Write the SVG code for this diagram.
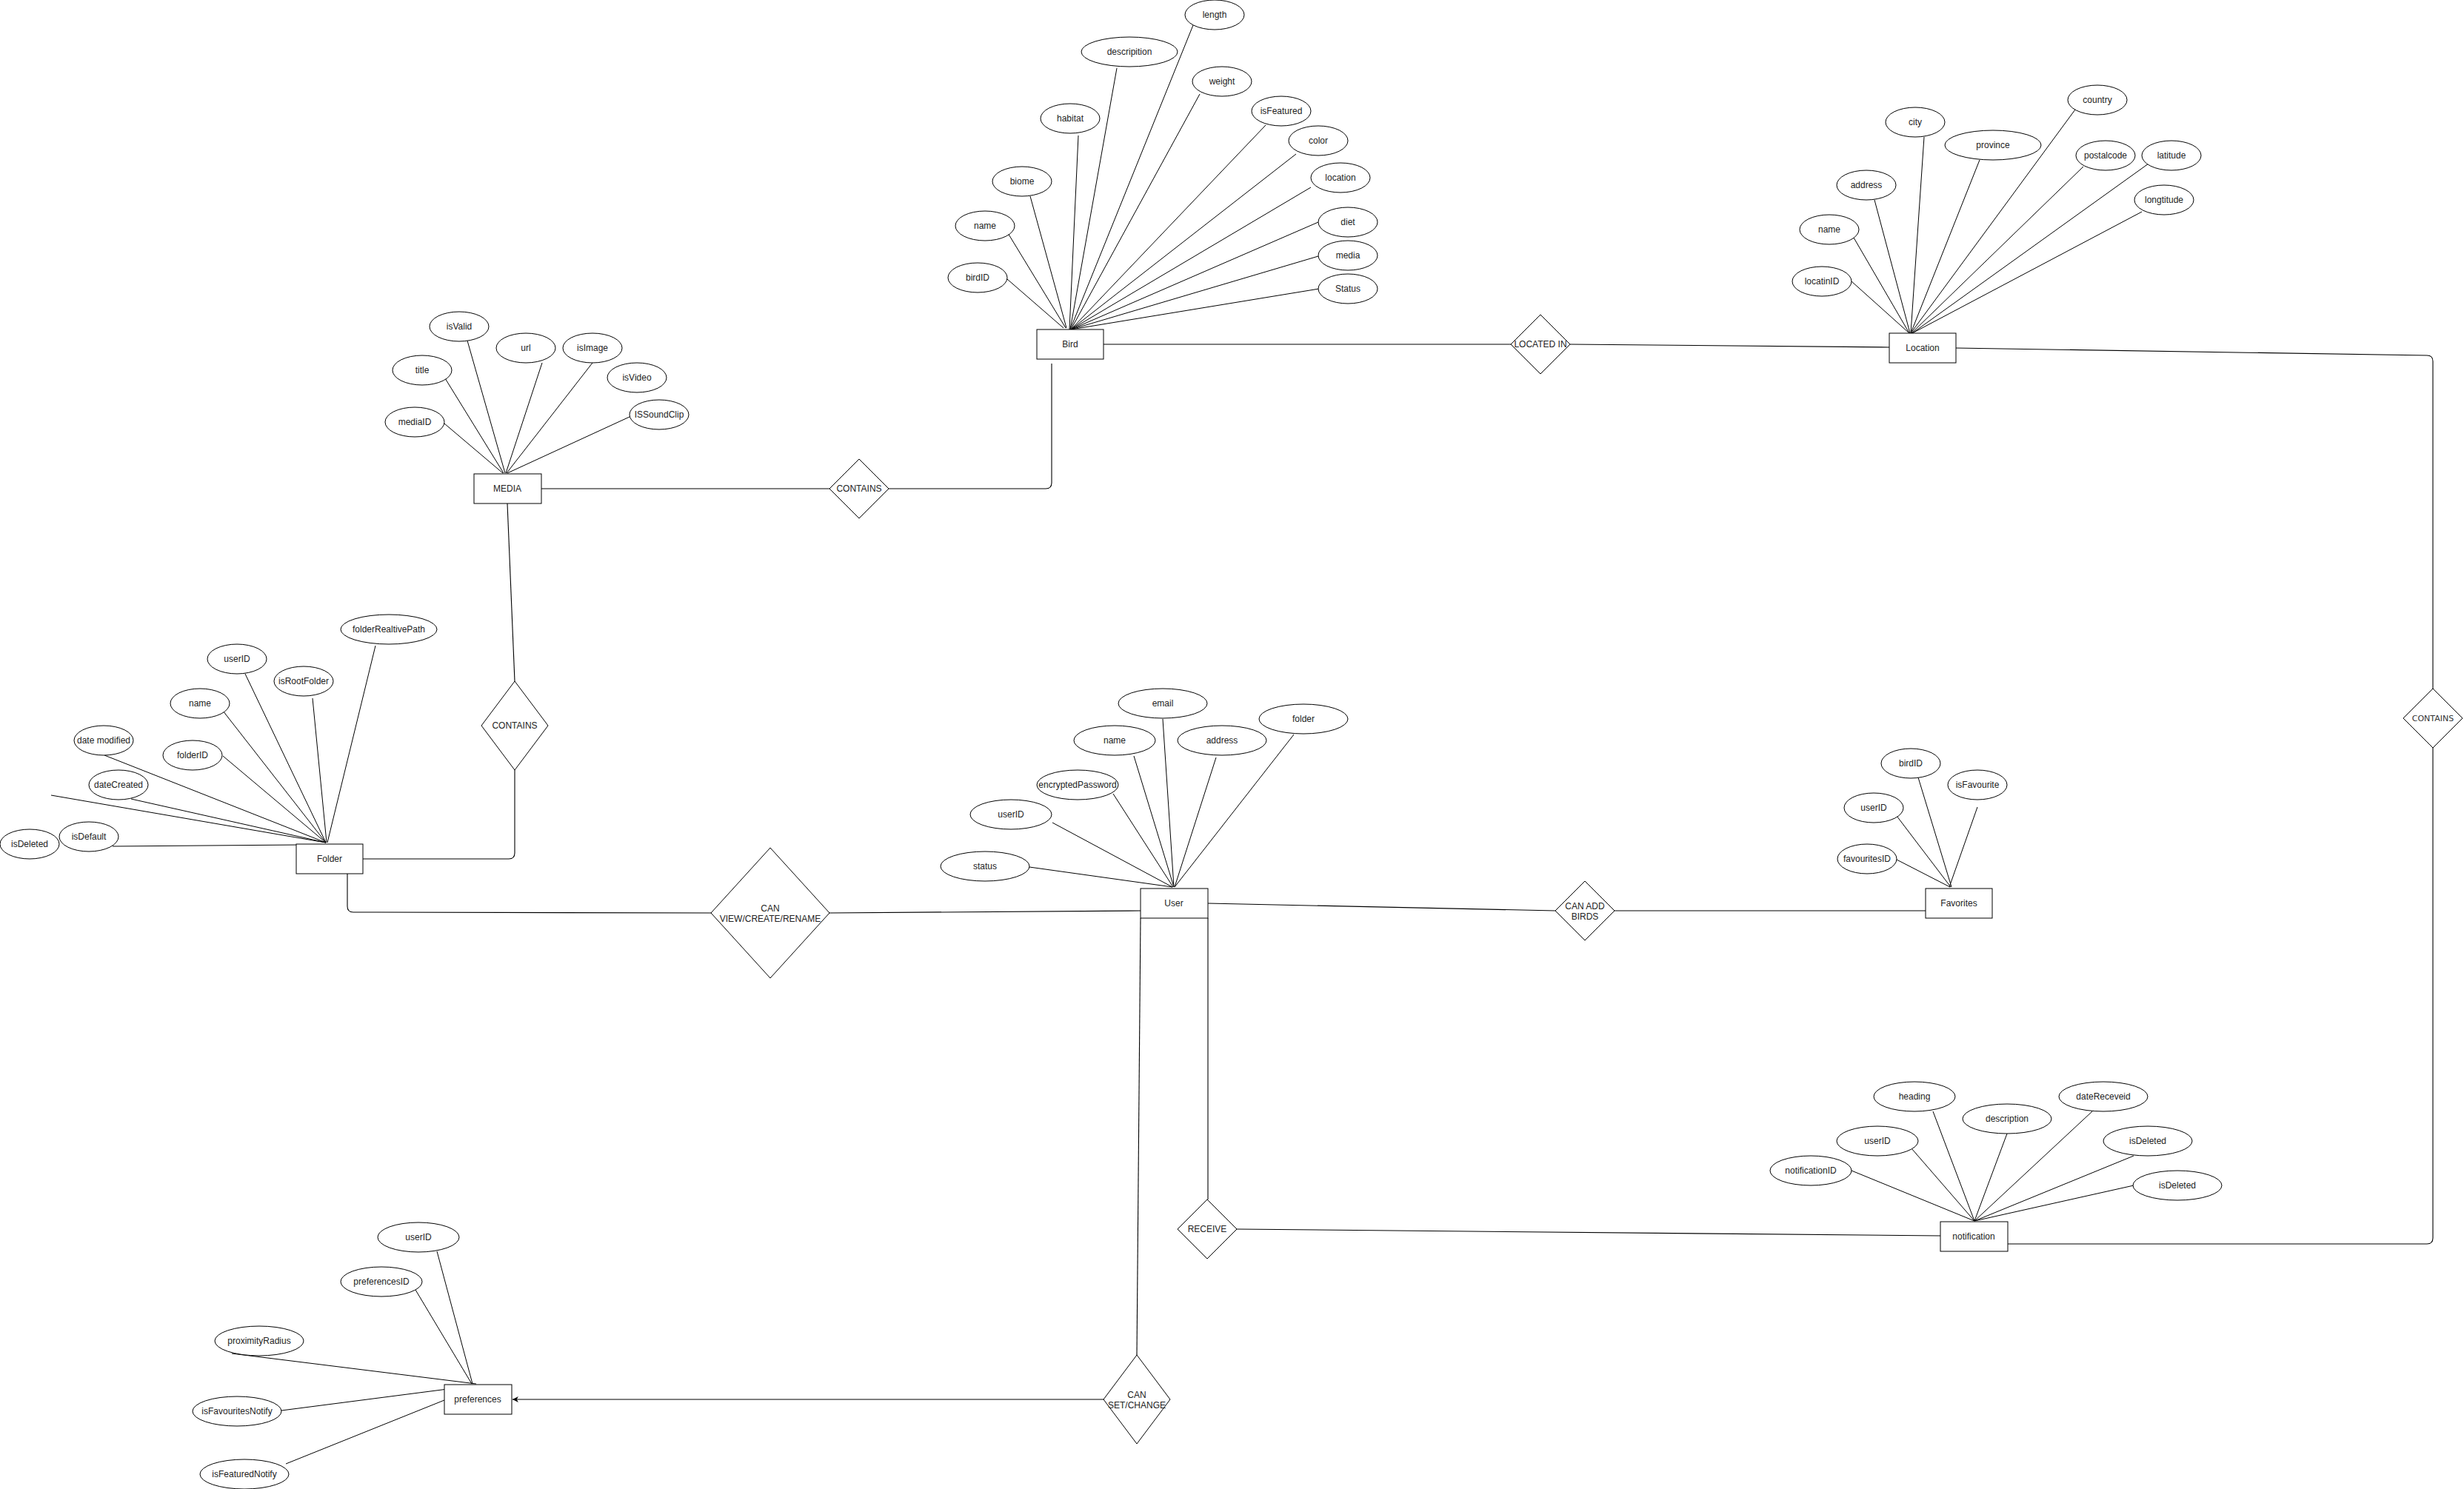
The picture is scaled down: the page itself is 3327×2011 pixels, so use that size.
<svg xmlns="http://www.w3.org/2000/svg" width="3327" height="2011" viewBox="0 0 3327 2011">
<style>
.bg{fill:#ffffff}
.attr ellipse{fill:#ffffff;stroke:#000;stroke-width:1}
.ent rect{fill:#ffffff;stroke:#000;stroke-width:1}
.rel polygon{fill:#ffffff;stroke:#000;stroke-width:1}
text{font-family:"Liberation Sans",Arial,sans-serif;font-size:12px;fill:#222;text-anchor:middle;dominant-baseline:central}
.conn line,.conn path{stroke:#000;stroke-width:1;fill:none}
.conn .rl{stroke-width:1.1}
.wide{font-family:"DejaVu Sans",Verdana,sans-serif;font-size:11px;fill:#333}
</style>
<defs>
<marker id="arr" viewBox="0 0 10 10" refX="10" refY="5" markerWidth="8" markerHeight="8" orient="auto" markerUnits="userSpaceOnUse">
<path d="M0,0 L10,5 L0,10 L3,5 z" fill="#000"/>
</marker>
</defs>
<rect class="bg" x="0" y="0" width="3327" height="2011"/>

<g id="connectors" class="conn">
<!-- Bird attributes -->
<line x1="1360" y1="377" x2="1436" y2="443"/>
<line x1="1361" y1="315" x2="1439" y2="443"/>
<line x1="1391" y1="265" x2="1440" y2="443"/>
<line x1="1456" y1="183" x2="1444" y2="445"/>
<line x1="1508" y1="92" x2="1445" y2="445"/>
<line x1="1611" y1="34" x2="1445" y2="445"/>
<line x1="1620" y1="127" x2="1446" y2="445"/>
<line x1="1709" y1="169" x2="1446" y2="445"/>
<line x1="1750" y1="208" x2="1446" y2="445"/>
<line x1="1770" y1="253" x2="1446" y2="445"/>
<line x1="1780" y1="300" x2="1446" y2="445"/>
<line x1="1780" y1="346" x2="1446" y2="445"/>
<line x1="1781" y1="390" x2="1446" y2="445"/>
<!-- Location attributes -->
<line x1="2500" y1="380" x2="2578" y2="450"/>
<line x1="2503" y1="321" x2="2578" y2="450"/>
<line x1="2531" y1="270" x2="2579" y2="450"/>
<line x1="2598" y1="185" x2="2580" y2="450"/>
<line x1="2673" y1="216" x2="2580" y2="450"/>
<line x1="2802" y1="148" x2="2580" y2="450"/>
<line x1="2813" y1="225" x2="2581" y2="450"/>
<line x1="2901" y1="221" x2="2582" y2="450"/>
<line x1="2892" y1="286" x2="2582" y2="450"/>
<!-- MEDIA attributes -->
<line x1="600" y1="572" x2="679" y2="639"/>
<line x1="601" y1="511" x2="680" y2="639"/>
<line x1="631" y1="460" x2="682" y2="639"/>
<line x1="732" y1="490" x2="683" y2="639"/>
<line x1="800" y1="490" x2="684" y2="639"/>
<line x1="850" y1="563" x2="685" y2="639"/>
<!-- Folder attributes -->
<line x1="507" y1="872" x2="442" y2="1138"/>
<line x1="422" y1="943" x2="441" y2="1138"/>
<line x1="331" y1="910" x2="440" y2="1138"/>
<line x1="301" y1="960" x2="440" y2="1138"/>
<line x1="301" y1="1021" x2="440" y2="1138"/>
<line x1="141" y1="1020" x2="440" y2="1138"/>
<line x1="177" y1="1079" x2="440" y2="1138"/>
<line x1="69" y1="1074" x2="440" y2="1138"/>
<line x1="152" y1="1143" x2="404" y2="1141"/>
<!-- User attributes -->
<line x1="1390" y1="1171" x2="1583" y2="1198"/>
<line x1="1421" y1="1111" x2="1583" y2="1198"/>
<line x1="1503" y1="1072" x2="1584" y2="1198"/>
<line x1="1531" y1="1021" x2="1585" y2="1198"/>
<line x1="1570" y1="971" x2="1585" y2="1198"/>
<line x1="1642" y1="1023" x2="1586" y2="1198"/>
<line x1="1747" y1="992" x2="1586" y2="1198"/>
<!-- Favorites attributes -->
<line x1="2561" y1="1161" x2="2633" y2="1198"/>
<line x1="2561" y1="1102" x2="2634" y2="1198"/>
<line x1="2590" y1="1050" x2="2635" y2="1198"/>
<line x1="2670" y1="1090" x2="2632" y2="1198"/>
<!-- notification attributes -->
<line x1="2500" y1="1581" x2="2666" y2="1649"/>
<line x1="2581" y1="1551" x2="2666" y2="1649"/>
<line x1="2610" y1="1501" x2="2666" y2="1649"/>
<line x1="2710" y1="1531" x2="2666" y2="1649"/>
<line x1="2825" y1="1501" x2="2666" y2="1649"/>
<line x1="2881" y1="1561" x2="2666" y2="1649"/>
<line x1="2881" y1="1601" x2="2666" y2="1649"/>
<!-- preferences attributes -->
<line x1="590" y1="1690" x2="638" y2="1869"/>
<line x1="561" y1="1742" x2="637" y2="1869"/>
<line x1="313" y1="1828" x2="643" y2="1869"/>
<line x1="380" y1="1905" x2="643" y2="1871"/>
<line x1="386" y1="1977" x2="600" y2="1891"/>
<!-- relationship connectors -->
<line class="rl" x1="1490" y1="465" x2="2040" y2="465"/>
<line class="rl" x1="2120" y1="465" x2="2551" y2="469"/>
<path class="rl" d="M2641,470 L3277,480 Q3285,480 3285,488 L3285,930"/>
<path class="rl" d="M3285,1010 L3285,1672 Q3285,1680 3277,1680 L2711,1680"/>
<line class="rl" x1="731" y1="660" x2="1120" y2="660"/>
<path class="rl" d="M1200,660 L1412,660 Q1420,660 1420,652 L1420,491"/>
<line class="rl" x1="685" y1="680" x2="695" y2="920"/>
<path class="rl" d="M695,1040 L695,1152 Q695,1160 687,1160 L490,1160"/>
<path class="rl" d="M469,1180 L469,1224 Q469,1232 477,1232 L960,1233"/>
<line class="rl" x1="1120" y1="1233" x2="1540" y2="1230"/>
<line class="rl" x1="1631" y1="1220" x2="2100" y2="1230"/>
<line class="rl" x1="2180" y1="1230" x2="2600" y2="1230"/>
<line class="rl" x1="1631" y1="1240" x2="1631" y2="1620"/>
<line class="rl" x1="1670" y1="1660" x2="2620" y2="1669"/>
<line class="rl" x1="1540" y1="1240" x2="1535" y2="1830"/>
<line class="rl" x1="1490" y1="1890" x2="692" y2="1890" marker-end="url(#arr)"/>
</g>

<!-- Entities -->
<g id="bird" class="ent"><rect x="1400" y="445" width="90" height="40"/><text x="1445" y="465">Bird</text></g>
<g id="location" class="ent"><rect x="2551" y="450" width="90" height="40"/><text x="2596" y="470">Location</text></g>
<g id="media" class="ent"><rect x="640" y="640" width="91" height="40"/><text x="685" y="660">MEDIA</text></g>
<g id="folder" class="ent"><rect x="400" y="1140" width="90" height="40"/><text x="445" y="1160">Folder</text></g>
<g id="user" class="ent"><rect x="1540" y="1200" width="91" height="40"/><text x="1585" y="1220">User</text></g>
<g id="favorites" class="ent"><rect x="2600" y="1200" width="90" height="40"/><text x="2645" y="1220">Favorites</text></g>
<g id="notification" class="ent"><rect x="2620" y="1650" width="91" height="40"/><text x="2665" y="1670">notification</text></g>
<g id="preferences" class="ent"><rect x="600" y="1870" width="91" height="40"/><text x="645" y="1890">preferences</text></g>

<!-- Relationships -->
<g id="rel-located-in" class="rel"><polygon points="2080,425 2120,465 2080,505 2040,465"/><text x="2080" y="465">LOCATED IN</text></g>
<g id="rel-contains-media-bird" class="rel"><polygon points="1160,620 1200,660 1160,700 1120,660"/><text x="1160" y="660">CONTAINS</text></g>
<g id="rel-contains-folder-media" class="rel"><polygon points="695,920 740,980 695,1040 650,980"/><text x="695" y="980">CONTAINS</text></g>
<g id="rel-can-view" class="rel"><polygon points="1040,1145 1120,1233 1040,1321 960,1233"/><text x="1040" y="1227">CAN</text><text x="1040" y="1241">VIEW/CREATE/RENAME</text></g>
<g id="rel-can-add" class="rel"><polygon points="2140,1190 2180,1230 2140,1270 2100,1230"/><text x="2140" y="1224">CAN ADD</text><text x="2140" y="1238">BIRDS</text></g>
<g id="rel-receive" class="rel"><polygon points="1630,1620 1670,1660 1630,1700 1590,1660"/><text x="1630" y="1660">RECEIVE</text></g>
<g id="rel-can-set" class="rel"><polygon points="1535,1830 1580,1890 1535,1950 1490,1890"/><text x="1535" y="1884">CAN</text><text x="1535" y="1898">SET/CHANGE</text></g>
<g id="rel-contains-right" class="rel"><polygon points="3285,930 3325,970 3285,1010 3245,970"/><text class="wide" x="3285" y="970">CONTAINS</text></g>

<!-- Bird attributes -->
<g id="bird-length" class="attr"><ellipse cx="1640" cy="20" rx="40" ry="20"/><text x="1640" y="20">length</text></g>
<g id="bird-descripition" class="attr"><ellipse cx="1525" cy="70" rx="65" ry="20"/><text x="1525" y="70">descripition</text></g>
<g id="bird-weight" class="attr"><ellipse cx="1650" cy="110" rx="40" ry="20"/><text x="1650" y="110">weight</text></g>
<g id="bird-habitat" class="attr"><ellipse cx="1445" cy="160" rx="40" ry="20"/><text x="1445" y="160">habitat</text></g>
<g id="bird-isFeatured" class="attr"><ellipse cx="1730" cy="150" rx="40" ry="20"/><text x="1730" y="150">isFeatured</text></g>
<g id="bird-color" class="attr"><ellipse cx="1780" cy="190" rx="40" ry="20"/><text x="1780" y="190">color</text></g>
<g id="bird-biome" class="attr"><ellipse cx="1380" cy="245" rx="40" ry="20"/><text x="1380" y="245">biome</text></g>
<g id="bird-location" class="attr"><ellipse cx="1810" cy="240" rx="40" ry="20"/><text x="1810" y="240">location</text></g>
<g id="bird-name" class="attr"><ellipse cx="1330" cy="305" rx="40" ry="20"/><text x="1330" y="305">name</text></g>
<g id="bird-diet" class="attr"><ellipse cx="1820" cy="300" rx="40" ry="20"/><text x="1820" y="300">diet</text></g>
<g id="bird-birdID" class="attr"><ellipse cx="1320" cy="375" rx="40" ry="20"/><text x="1320" y="375">birdID</text></g>
<g id="bird-media" class="attr"><ellipse cx="1820" cy="345" rx="40" ry="20"/><text x="1820" y="345">media</text></g>
<g id="bird-status" class="attr"><ellipse cx="1820" cy="390" rx="40" ry="20"/><text x="1820" y="390">Status</text></g>

<!-- Location attributes -->
<g id="loc-country" class="attr"><ellipse cx="2832" cy="135" rx="40" ry="20"/><text x="2832" y="135">country</text></g>
<g id="loc-city" class="attr"><ellipse cx="2586" cy="165" rx="40" ry="20"/><text x="2586" y="165">city</text></g>
<g id="loc-province" class="attr"><ellipse cx="2691" cy="196" rx="65" ry="20"/><text x="2691" y="196">province</text></g>
<g id="loc-postalcode" class="attr"><ellipse cx="2843" cy="210" rx="40" ry="20"/><text x="2843" y="210">postalcode</text></g>
<g id="loc-latitude" class="attr"><ellipse cx="2932" cy="210" rx="40" ry="20"/><text x="2932" y="210">latitude</text></g>
<g id="loc-address" class="attr"><ellipse cx="2520" cy="250" rx="40" ry="20"/><text x="2520" y="250">address</text></g>
<g id="loc-longtitude" class="attr"><ellipse cx="2922" cy="270" rx="40" ry="20"/><text x="2922" y="270">longtitude</text></g>
<g id="loc-name" class="attr"><ellipse cx="2470" cy="310" rx="40" ry="20"/><text x="2470" y="310">name</text></g>
<g id="loc-locatinID" class="attr"><ellipse cx="2460" cy="380" rx="40" ry="20"/><text x="2460" y="380">locatinID</text></g>

<!-- MEDIA attributes -->
<g id="media-isValid" class="attr"><ellipse cx="620" cy="441" rx="40" ry="20"/><text x="620" y="441">isValid</text></g>
<g id="media-url" class="attr"><ellipse cx="710" cy="470" rx="40" ry="20"/><text x="710" y="470">url</text></g>
<g id="media-isImage" class="attr"><ellipse cx="800" cy="470" rx="40" ry="20"/><text x="800" y="470">isImage</text></g>
<g id="media-title" class="attr"><ellipse cx="570" cy="500" rx="40" ry="20"/><text x="570" y="500">title</text></g>
<g id="media-isVideo" class="attr"><ellipse cx="860" cy="510" rx="40" ry="20"/><text x="860" y="510">isVideo</text></g>
<g id="media-mediaID" class="attr"><ellipse cx="560" cy="570" rx="40" ry="20"/><text x="560" y="570">mediaID</text></g>
<g id="media-ISSoundClip" class="attr"><ellipse cx="890" cy="560" rx="40" ry="20"/><text x="890" y="560">ISSoundClip</text></g>

<!-- Folder attributes -->
<g id="folder-path" class="attr"><ellipse cx="525" cy="850" rx="65" ry="20"/><text x="525" y="850">folderRealtivePath</text></g>
<g id="folder-userID" class="attr"><ellipse cx="320" cy="890" rx="40" ry="20"/><text x="320" y="890">userID</text></g>
<g id="folder-isRootFolder" class="attr"><ellipse cx="410" cy="920" rx="40" ry="20"/><text x="410" y="920">isRootFolder</text></g>
<g id="folder-name" class="attr"><ellipse cx="270" cy="950" rx="40" ry="20"/><text x="270" y="950">name</text></g>
<g id="folder-datemodified" class="attr"><ellipse cx="140" cy="1000" rx="40" ry="20"/><text x="140" y="1000">date modified</text></g>
<g id="folder-folderID" class="attr"><ellipse cx="260" cy="1020" rx="40" ry="20"/><text x="260" y="1020">folderID</text></g>
<g id="folder-dateCreated" class="attr"><ellipse cx="160" cy="1060" rx="40" ry="20"/><text x="160" y="1060">dateCreated</text></g>
<g id="folder-isDefault" class="attr"><ellipse cx="120" cy="1130" rx="40" ry="20"/><text x="120" y="1130">isDefault</text></g>
<g id="folder-isDeleted" class="attr"><ellipse cx="40" cy="1140" rx="40" ry="20"/><text x="40" y="1140">isDeleted</text></g>

<!-- User attributes -->
<g id="user-email" class="attr"><ellipse cx="1570" cy="950" rx="60" ry="20"/><text x="1570" y="950">email</text></g>
<g id="user-folder" class="attr"><ellipse cx="1760" cy="971" rx="60" ry="20"/><text x="1760" y="971">folder</text></g>
<g id="user-name" class="attr"><ellipse cx="1505" cy="1000" rx="55" ry="20"/><text x="1505" y="1000">name</text></g>
<g id="user-address" class="attr"><ellipse cx="1650" cy="1000" rx="60" ry="20"/><text x="1650" y="1000">address</text></g>
<g id="user-encryptedPassword" class="attr"><ellipse cx="1455" cy="1060" rx="55" ry="20"/><text x="1455" y="1060">encryptedPassword</text></g>
<g id="user-userID" class="attr"><ellipse cx="1365" cy="1100" rx="55" ry="20"/><text x="1365" y="1100">userID</text></g>
<g id="user-status" class="attr"><ellipse cx="1330" cy="1170" rx="60" ry="20"/><text x="1330" y="1170">status</text></g>

<!-- Favorites attributes -->
<g id="fav-birdID" class="attr"><ellipse cx="2580" cy="1031" rx="40" ry="20"/><text x="2580" y="1031">birdID</text></g>
<g id="fav-isFavourite" class="attr"><ellipse cx="2670" cy="1060" rx="40" ry="20"/><text x="2670" y="1060">isFavourite</text></g>
<g id="fav-userID" class="attr"><ellipse cx="2530" cy="1091" rx="40" ry="20"/><text x="2530" y="1091">userID</text></g>
<g id="fav-favouritesID" class="attr"><ellipse cx="2521" cy="1160" rx="40" ry="20"/><text x="2521" y="1160">favouritesID</text></g>

<!-- notification attributes -->
<g id="notif-heading" class="attr"><ellipse cx="2585" cy="1481" rx="55" ry="20"/><text x="2585" y="1481">heading</text></g>
<g id="notif-dateReceveid" class="attr"><ellipse cx="2840" cy="1481" rx="60" ry="20"/><text x="2840" y="1481">dateReceveid</text></g>
<g id="notif-description" class="attr"><ellipse cx="2710" cy="1511" rx="60" ry="20"/><text x="2710" y="1511">description</text></g>
<g id="notif-userID" class="attr"><ellipse cx="2535" cy="1541" rx="55" ry="20"/><text x="2535" y="1541">userID</text></g>
<g id="notif-isDeleted1" class="attr"><ellipse cx="2900" cy="1541" rx="60" ry="20"/><text x="2900" y="1541">isDeleted</text></g>
<g id="notif-notificationID" class="attr"><ellipse cx="2445" cy="1581" rx="55" ry="20"/><text x="2445" y="1581">notificationID</text></g>
<g id="notif-isDeleted2" class="attr"><ellipse cx="2940" cy="1601" rx="60" ry="20"/><text x="2940" y="1601">isDeleted</text></g>

<!-- preferences attributes -->
<g id="pref-userID" class="attr"><ellipse cx="565" cy="1671" rx="55" ry="20"/><text x="565" y="1671">userID</text></g>
<g id="pref-preferencesID" class="attr"><ellipse cx="515" cy="1731" rx="55" ry="20"/><text x="515" y="1731">preferencesID</text></g>
<g id="pref-proximityRadius" class="attr"><ellipse cx="350" cy="1811" rx="60" ry="20"/><text x="350" y="1811">proximityRadius</text></g>
<g id="pref-isFavouritesNotify" class="attr"><ellipse cx="320" cy="1906" rx="60" ry="20"/><text x="320" y="1906">isFavouritesNotify</text></g>
<g id="pref-isFeaturedNotify" class="attr"><ellipse cx="330" cy="1991" rx="60" ry="20"/><text x="330" y="1991">isFeaturedNotify</text></g>
</svg>
